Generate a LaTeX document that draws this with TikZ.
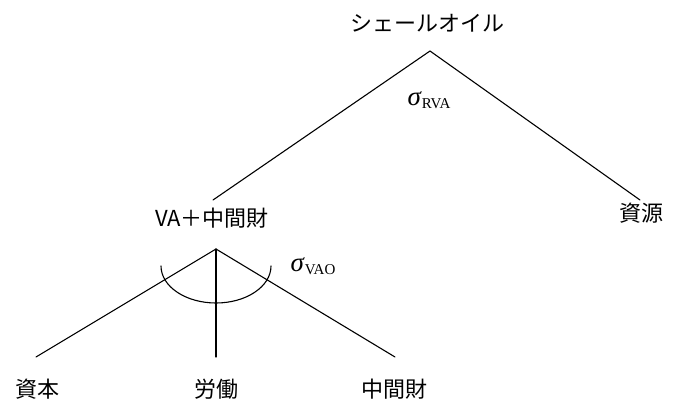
\documentclass[tikz,border=0pt]{standalone}
\usepackage{fontspec}
\newfontfamily\jp{Noto Sans CJK JP}
\newfontfamily\tms{Liberation Serif}
\begin{document}
\begin{tikzpicture}[x=1pt,y=1pt,
  lbl/.style={inner sep=0pt, font=\jp\fontsize{22}{22}\selectfont},
  sig/.style={inner sep=0pt, font=\tms\fontsize{27}{27}\selectfont},
  edge/.style={line width=1.1pt, line cap=round}]
\useasboundingbox[fill=white] (0,0) rectangle (673,-410);
% labels
\node[lbl] (shale) at (427,-23) {シェールオイル};
\node[lbl] (va) at (212,-218) {VA＋中間財};
\node[lbl] (res) at (641,-213) {資源};
\node[lbl] (cap) at (38,-389) {資本};
\node[lbl] (lab) at (216,-389) {労働};
\node[lbl] (mid) at (394,-389) {中間財};
\node[sig] (srva) at (429,-100) {\itshape σ\/\raisebox{-0.25ex}{\upshape\fontsize{15}{15}\selectfont RVA}};
\node[sig] (svao) at (313,-266) {\itshape σ\/\raisebox{-0.25ex}{\upshape\fontsize{15}{15}\selectfont VAO}};
% coordinates
\coordinate (top) at (430,-51);
\coordinate (tl) at (213,-200);
\coordinate (tr) at (640,-200);
\coordinate (low) at (216,-249);
\coordinate (bl) at (36,-357);
\coordinate (bm) at (216,-357);
\coordinate (br) at (395,-357);
% connectors
\draw[edge] (tl) -- (top) -- (tr);
\draw[edge] (bl) -- (low) -- (br);
\draw[edge] (low) -- (bm);
\draw[edge] (161,-266) arc[start angle=180, end angle=360, x radius=55, y radius=37];
\end{tikzpicture}
\end{document}
